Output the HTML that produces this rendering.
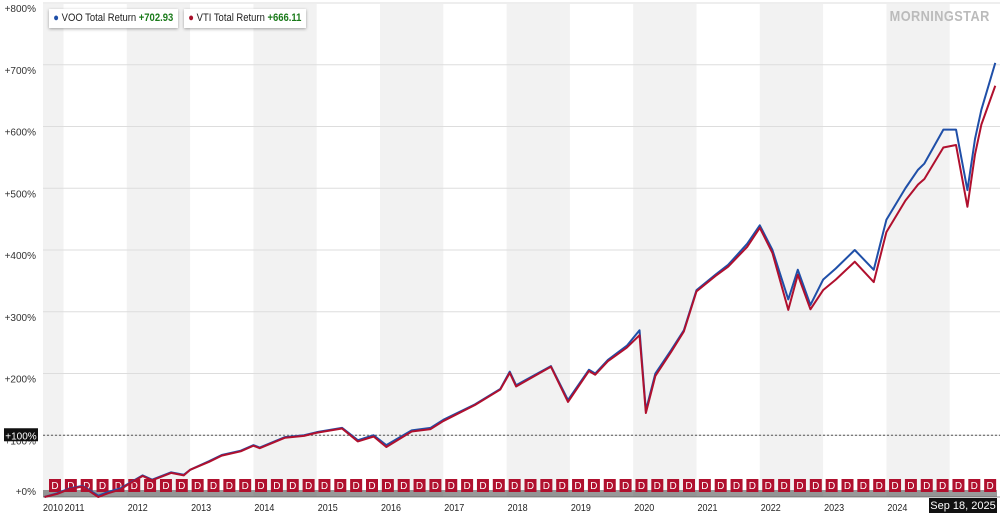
<!DOCTYPE html>
<html><head><meta charset="utf-8"><style>
body{margin:0;width:1000px;height:520px;overflow:hidden;background:#fff;font-family:"Liberation Sans",sans-serif}
.leg{position:absolute;top:9px;height:19px;background:#fff;box-shadow:0 1px 3px rgba(0,0,0,.35);font-size:11px;line-height:19px;overflow:hidden;color:#222}
.leg span.in{display:inline-block;white-space:nowrap;transform:scaleX(.86);transform-origin:left;padding-left:5px}
.leg b{color:#1a7a1a}
</style></head><body>
<svg id="c" width="1000" height="520" style="position:absolute;left:0;top:0"></svg>
<div class="leg" style="left:49px;width:129px"><span class="in"><span style="color:#1f4fa8">●</span> VOO Total Return <b>+702.93</b> &nbsp;✕</span></div>
<div class="leg" style="left:184px;width:122px"><span class="in"><span style="color:#a8102a">●</span> VTI Total Return <b>+666.11</b> &nbsp;✕</span></div>
<div style="position:absolute;right:10px;top:8px;font-size:15px;font-weight:bold;color:#bbb;letter-spacing:0.5px;transform:scaleX(.85);transform-origin:right">MORNINGSTAR</div>
<script>
const dates=[2010.7,2010.9,2011.1,2011.3,2011.55,2011.7,2011.9,2012.0,2012.25,2012.4,2012.7,2012.9,2013.0,2013.3,2013.5,2013.8,2014.0,2014.1,2014.5,2014.8,2015.0,2015.4,2015.65,2015.9,2016.1,2016.5,2016.8,2017.0,2017.5,2017.9,2018.05,2018.15,2018.7,2018.97,2019.3,2019.4,2019.6,2019.9,2020.1,2020.2,2020.35,2020.6,2020.8,2021.0,2021.3,2021.5,2021.8,2022.0,2022.2,2022.45,2022.6,2022.8,2023.0,2023.2,2023.5,2023.8,2024.0,2024.3,2024.5,2024.6,2024.9,2025.1,2025.28,2025.4,2025.5,2025.72];
const voo=[0,6,14,18,2,8,14,20,35,28,40,36,44,58,68,75,84,80,97,100,105,112,92,100,84,108,112,125,150,175,203,181,212,157,206,200,222,245,270,140,200,238,270,335,360,376,410,440,400,320,368,311,352,370,400,368,449,500,530,540,595,595,497,580,627,703];
const vti=[0,5,13,17,0,6,12,19,34,27,39,35,44,57,67,74,83,79,96,99,104,111,90,98,81,106,110,123,149,174,201,179,211,154,204,198,220,242,262,136,196,235,268,333,358,373,405,436,395,303,360,304,335,352,381,348,429,480,506,515,566,570,470,555,603,666];
const yTicks=[0,100,200,300,400,500,600,700,800];
const xYears=[2010,2011,2012,2013,2014,2015,2016,2017,2018,2019,2020,2021,2022,2023,2024];
const X=d=>63.5+(d-2011)*63.3, Y=v=>497-v*0.6175;
const NS='http://www.w3.org/2000/svg',s=document.getElementById('c');
function el(t,a,p){const e=document.createElementNS(NS,t);for(const k in a)e.setAttribute(k,a[k]);(p||s).appendChild(e);return e;}
const b0=el('rect',{x:43,y:4,width:X(2011)-43,height:493,fill:'#f2f2f2'});


for(let yr=2012;yr<=2024;yr+=2){const r=el('rect',{x:X(yr),y:4,width:63.3,height:493,fill:'#f2f2f2'});

}
yTicks.forEach(v=>{const g=el('line',{x1:43,x2:1000,y1:Y(v),y2:Y(v),stroke:v==0?'#999':'#ddd','stroke-width':1});


const t=el('text',{x:36,y:v==0?Y(v)-2:Y(v)+9,'font-size':10,'text-anchor':'end',fill:'#333'});t.textContent='+'+v+'%';

});
el('line',{x1:43,x2:1000,y1:Y(100),y2:Y(100),stroke:'#555','stroke-dasharray':'2,2'});
el('rect',{x:4,y:Y(100)-7,width:34,height:13,fill:'#111'});
const bl=el('text',{x:21,y:Y(100)+4,'font-size':10,fill:'#fff','text-anchor':'middle'});bl.textContent='+100%';


xYears.forEach(y=>{const t=el('text',{x:y==2010?43:X(y)+1,y:511,'font-size':10.5,fill:'#222',textLength:20,lengthAdjust:'spacingAndGlyphs'});t.textContent=y;

});
el('rect',{x:929,y:498,width:68,height:15,fill:'#111'});
const de=el('text',{x:963,y:509,'font-size':11,fill:'#fff','text-anchor':'middle'});de.textContent='Sep 18, 2025';


el('rect',{x:43,y:490,width:954,height:7,fill:'#555',opacity:0.6});
for(let i=0;i<60;i++){const x=49+i*15.85;const g=el('g',{});


el('rect',{x:x,y:479,width:12,height:13,fill:'#b0102e'},g);
const t=el('text',{x:x+6,y:489,'font-size':10,fill:'#fff','text-anchor':'middle'},g);t.textContent='D';}
function line(vals,col,name){const p=el('polyline',{points:dates.map((d,i)=>X(d)+','+Y(vals[i])).join(' '),fill:'none',stroke:col,'stroke-width':2,'stroke-linejoin':'round'});

}
line(voo,'#1f4fa8','voo-line');
line(vti,'#b0102e','vti-line');
</script>
</body></html>
